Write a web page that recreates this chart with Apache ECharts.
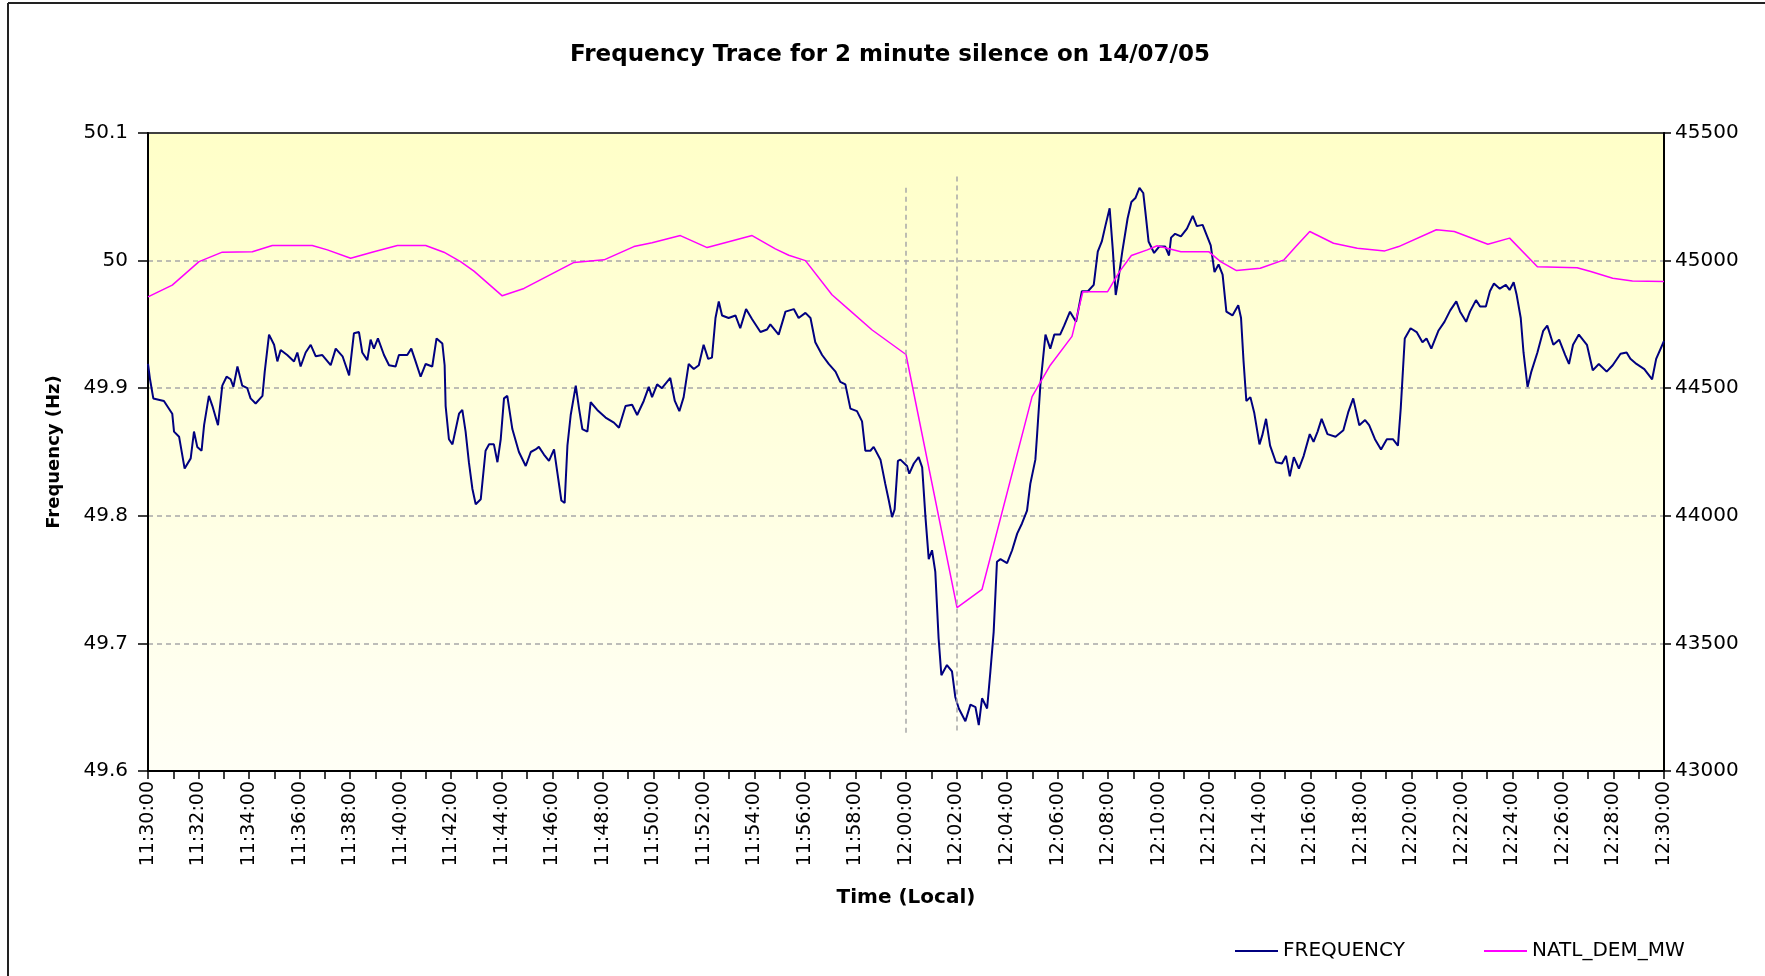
<!DOCTYPE html>
<html>
<head>
<meta charset="utf-8">
<title>Frequency Trace for 2 minute silence on 14/07/05</title>
<script src="https://cdn.jsdelivr.net/npm/echarts@6/dist/echarts.min.js"></script>
<style>
  html, body { margin: 0; padding: 0; background: #fff; }
  #chart { width: 1765px; height: 976px; }
</style>
</head>
<body>
<div id="chart"></div>
<script>
// time is minutes after 11:30:00
const freqMinutes = [
  0, 0.08, 0.21, 0.63, 0.96, 1.03, 1.23, 1.45, 1.69, 1.82, 1.95, 2.12, 2.22, 2.41, 2.55, 2.77, 2.94, 3.11, 3.27, 3.38,
  3.54, 3.73, 3.93, 4.06, 4.26, 4.53, 4.62, 4.79, 4.99, 5.12, 5.25, 5.51, 5.78, 5.91, 6.04, 6.24, 6.44, 6.64, 6.90, 7.23,
  7.43, 7.70, 7.96, 8.15, 8.35, 8.48, 8.68, 8.81, 8.94, 9.10, 9.34, 9.54, 9.80, 9.93, 10.26, 10.42, 10.59, 10.79, 10.99, 11.25,
  11.42, 11.65, 11.74, 11.78, 11.91, 12.05, 12.31, 12.44, 12.57, 12.70, 12.84, 12.97, 13.17, 13.36, 13.50, 13.69, 13.83, 13.96, 14.09, 14.22,
  14.42, 14.68, 14.95, 15.15, 15.34, 15.47, 15.67, 15.87, 16.07, 16.20, 16.36, 16.49, 16.60, 16.73, 16.93, 17.06, 17.19, 17.39, 17.52, 17.78,
  18.11, 18.44, 18.64, 18.90, 19.16, 19.36, 19.62, 19.82, 19.95, 20.15, 20.34, 20.67, 20.85, 21.03, 21.20, 21.40, 21.60, 21.80, 21.99, 22.17,
  22.32, 22.46, 22.59, 22.72, 22.98, 23.25, 23.44, 23.67, 23.91, 24.24, 24.50, 24.63, 24.96, 25.23, 25.56, 25.75, 26.02, 26.22, 26.41, 26.68,
  26.94, 27.21, 27.40, 27.60, 27.80, 28.06, 28.26, 28.39, 28.59, 28.72, 28.99, 29.18, 29.32, 29.45, 29.55, 29.68, 29.78, 30.04, 30.13, 30.31,
  30.50, 30.64, 30.77, 30.90, 31.03, 31.16, 31.29, 31.40, 31.62, 31.82, 31.95, 32.09, 32.35, 32.55, 32.75, 32.88, 33.01, 33.21, 33.34, 33.47,
  33.60, 33.74, 34.00, 34.20, 34.40, 34.59, 34.79, 34.92, 35.12, 35.19, 35.32, 35.52, 35.71, 35.87, 36.10, 36.26, 36.49, 36.73, 36.96, 37.20,
  37.43, 37.59, 37.75, 37.90, 38.06, 38.19, 38.30, 38.41, 38.56, 38.77, 38.92, 39.08, 39.24, 39.39, 39.47, 39.60, 39.82, 40.02, 40.26, 40.41,
  40.49, 40.65, 40.88, 41.12, 41.35, 41.51, 41.74, 41.90, 42.06, 42.21, 42.37, 42.53, 42.68, 42.92, 43.15, 43.26, 43.36, 43.47, 43.63, 43.78,
  43.99, 44.10, 44.25, 44.41, 44.64, 44.88, 45.04, 45.19, 45.35, 45.55, 45.74, 45.98, 46.13, 46.29, 46.45, 46.68, 47.00, 47.31, 47.50, 47.70,
  47.94, 48.17, 48.33, 48.56, 48.80, 49.03, 49.27, 49.47, 49.58, 49.74, 49.97, 50.21, 50.44, 50.60, 50.79, 51.07, 51.31, 51.54, 51.78, 51.93,
  52.17, 52.32, 52.56, 52.72, 52.95, 53.11, 53.27, 53.50, 53.74, 53.89, 54.05, 54.17, 54.33, 54.44, 54.60, 54.75, 54.99, 55.22, 55.38, 55.62,
  55.85, 56.09, 56.24, 56.40, 56.63, 56.95, 57.18, 57.42, 57.73, 57.97, 58.28, 58.52, 58.67, 58.91, 59.22, 59.53, 59.69, 60
];
const freqHz = [
  49.919, 49.907, 49.892, 49.890, 49.880, 49.866, 49.862, 49.837, 49.845, 49.866, 49.854, 49.851, 49.871, 49.894, 49.886, 49.871, 49.902, 49.909, 49.907, 49.901,
  49.917, 49.902, 49.900, 49.892, 49.888, 49.894, 49.913, 49.942, 49.934, 49.921, 49.930, 49.926, 49.921, 49.928, 49.917, 49.928, 49.934, 49.925, 49.926, 49.918,
  49.931, 49.925, 49.910, 49.943, 49.944, 49.928, 49.922, 49.938, 49.931, 49.939, 49.926, 49.918, 49.917, 49.926, 49.926, 49.931, 49.921, 49.909, 49.919, 49.917,
  49.939, 49.935, 49.918, 49.886, 49.860, 49.856, 49.880, 49.883, 49.866, 49.842, 49.821, 49.809, 49.813, 49.851, 49.856, 49.856, 49.842, 49.860, 49.892, 49.894,
  49.868, 49.850, 49.839, 49.850, 49.852, 49.854, 49.848, 49.843, 49.852, 49.834, 49.812, 49.810, 49.855, 49.879, 49.902, 49.884, 49.868, 49.866, 49.889, 49.883,
  49.877, 49.873, 49.869, 49.886, 49.887, 49.879, 49.890, 49.901, 49.893, 49.903, 49.900, 49.908, 49.890, 49.882, 49.893, 49.919, 49.915, 49.918, 49.934, 49.923,
  49.924, 49.955, 49.968, 49.957, 49.955, 49.957, 49.947, 49.962, 49.954, 49.944, 49.946, 49.950, 49.942, 49.960, 49.962, 49.955, 49.959, 49.955, 49.936, 49.926,
  49.919, 49.913, 49.905, 49.903, 49.884, 49.882, 49.874, 49.851, 49.851, 49.854, 49.844, 49.825, 49.812, 49.799, 49.805, 49.843, 49.844, 49.839, 49.833, 49.841,
  49.846, 49.838, 49.799, 49.766, 49.773, 49.756, 49.704, 49.675, 49.683, 49.678, 49.658, 49.649, 49.639, 49.652, 49.650, 49.636, 49.657, 49.649, 49.678, 49.709,
  49.764, 49.766, 49.763, 49.773, 49.786, 49.794, 49.804, 49.825, 49.844, 49.864, 49.903, 49.942, 49.931, 49.942, 49.942, 49.949, 49.960, 49.952, 49.976, 49.976,
  49.981, 50.007, 50.015, 50.028, 50.041, 50.007, 49.973, 49.986, 50.007, 50.033, 50.046, 50.049, 50.057, 50.053, 50.039, 50.015, 50.006, 50.011, 50.011, 50.004,
  50.018, 50.021, 50.019, 50.025, 50.035, 50.027, 50.028, 50.020, 50.012, 49.991, 49.997, 49.989, 49.960, 49.957, 49.965, 49.955, 49.921, 49.890, 49.893, 49.881,
  49.856, 49.863, 49.876, 49.855, 49.842, 49.841, 49.847, 49.831, 49.846, 49.837, 49.847, 49.864, 49.858, 49.866, 49.876, 49.864, 49.862, 49.867, 49.881, 49.892,
  49.871, 49.875, 49.871, 49.860, 49.852, 49.860, 49.860, 49.855, 49.884, 49.939, 49.947, 49.944, 49.936, 49.939, 49.931, 49.945, 49.952, 49.961, 49.968, 49.960,
  49.952, 49.960, 49.969, 49.964, 49.964, 49.976, 49.982, 49.978, 49.981, 49.977, 49.983, 49.973, 49.955, 49.928, 49.901, 49.913, 49.928, 49.945, 49.949, 49.934,
  49.938, 49.926, 49.919, 49.934, 49.942, 49.934, 49.914, 49.919, 49.913, 49.918, 49.927, 49.928, 49.923, 49.919, 49.915, 49.907, 49.923, 49.937
];

const demandMinutes = [
  0, 0.96, 2.02, 2.94, 4.13, 4.92, 6.50, 7.10, 8.02, 8.94, 9.87, 10.99, 11.71, 12.37, 12.90, 14.02, 14.88, 16.86, 18.05, 19.23,
  19.95, 21.07, 22.13, 23.91, 24.83, 25.36, 26.02, 27.07, 27.73, 28.66, 30.00, 32.02, 33.01, 34.99, 35.71, 36.57, 37.00, 37.98, 38.45, 38.92,
  39.55, 39.94, 40.88, 41.98, 42.45, 43.08, 44.02, 44.96, 45.43, 45.98, 46.92, 47.86, 48.95, 49.50, 50.99, 51.70, 53.03, 53.89, 54.99, 56.56,
  57.10, 57.97, 58.75, 60
];
const demandMW = [
  44858, 44904, 44996, 45033, 45035, 45059, 45059, 45042, 45009, 45035, 45059, 45059, 45033, 44996, 44959, 44862, 44891, 44993, 45003, 45055,
  45070, 45098, 45051, 45098, 45046, 45021, 45000, 44866, 44809, 44728, 44632, 43640, 43712, 44467, 44590, 44703, 44878, 44878, 44957, 45020,
  45042, 45058, 45035, 45035, 44996, 44961, 44970, 45003, 45055, 45114, 45068, 45048, 45038, 45055, 45121, 45114, 45064, 45088, 44976, 44972,
  44957, 44931, 44920, 44918
];

// the two minute silence: 12:00:00 and 12:02:00
const silenceMinutes = [30, 32];
const silenceTopHz = [50.057, 50.066];
const silenceBottomHz = 49.63;

const seriesNames = ['FREQUENCY', 'NATL_DEM_MW'];

function timeLabel(m) {
  const total = 11 * 60 + 30 + m;
  const h = Math.floor(total / 60);
  const mm = total % 60;
  return h + ':' + String(mm).padStart(2, '0') + ':00';
}

const font = 'DejaVu Sans';
const chart = echarts.init(document.getElementById('chart'), null, { renderer: 'canvas' });

const legendBase = {
  top: 941, padding: 0,
  icon: 'rect',
  itemWidth: 43, itemHeight: 2,
  textStyle: { fontFamily: font, fontSize: 20, color: '#000' }
};

chart.setOption({
  animation: false,
  backgroundColor: '#fff',
  title: {
    text: 'Frequency Trace for 2 minute silence on 14/07/05',
    left: 890,
    textAlign: 'center',
    top: 44,
    padding: 0,
    textStyle: { fontFamily: font, fontWeight: 'bold', fontSize: 23, color: '#000' }
  },
  graphic: [
    { type: 'line', shape: { x1: 8, y1: 3, x2: 1765, y2: 3 }, style: { stroke: '#222', lineWidth: 2 } },
    { type: 'line', shape: { x1: 8, y1: 3, x2: 8, y2: 976 }, style: { stroke: '#222', lineWidth: 2 } }
  ],
  legend: [
    Object.assign({ data: [seriesNames[0]], left: 1235 }, legendBase),
    Object.assign({ data: [seriesNames[1]], left: 1484 }, legendBase)
  ],
  grid: {
    left: 148, right: 101, top: 133, bottom: 205,
    show: true,
    borderColor: '#404040',
    borderWidth: 2,
    backgroundColor: new echarts.graphic.LinearGradient(0, 0, 0, 1, [
      { offset: 0, color: '#ffffc8' },
      { offset: 1, color: '#fffff6' }
    ])
  },
  xAxis: {
    type: 'value',
    min: 0, max: 60, interval: 1,
    name: 'Time (Local)',
    nameLocation: 'middle',
    nameGap: 117,
    nameTextStyle: { fontFamily: font, fontWeight: 'bold', fontSize: 20, color: '#000' },
    axisLine: { lineStyle: { color: '#000', width: 2 } },
    axisTick: { length: 8, lineStyle: { color: '#000', width: 1.5 } },
    axisLabel: {
      rotate: 90, margin: 10,
      fontFamily: font, fontSize: 19, color: '#000',
      formatter: v => (v % 2 === 0 ? timeLabel(v) : '')
    },
    splitLine: { show: false }
  },
  yAxis: [
    {
      type: 'value',
      min: 49.6, max: 50.1, interval: 0.1,
      name: 'Frequency (Hz)',
      nameLocation: 'middle',
      nameGap: 85,
      nameTextStyle: { fontFamily: font, fontWeight: 'bold', fontSize: 18, color: '#000' },
      axisLine: { show: true, lineStyle: { color: '#000', width: 2 } },
      axisTick: { show: true, length: 10, lineStyle: { color: '#000', width: 1.5 } },
      axisLabel: {
        margin: 20, fontFamily: font, fontSize: 20, color: '#000',
        formatter: v => String(Math.round(v * 10) / 10)
      },
      splitLine: {
        show: true, showMinLine: false, showMaxLine: false,
        lineStyle: { color: '#a8a8a8', type: [5, 4], width: 1.5 }
      }
    },
    {
      type: 'value',
      min: 43000, max: 45500, interval: 500,
      position: 'right',
      axisLine: { show: true, lineStyle: { color: '#000', width: 2 } },
      axisTick: { show: true, length: 7, lineStyle: { color: '#000', width: 1.5 } },
      axisLabel: {
        margin: 11, fontFamily: font, fontSize: 20, color: '#000',
        formatter: v => String(v)
      },
      splitLine: { show: false }
    }
  ],
  series: [
    {
      name: seriesNames[0],
      type: 'line',
      yAxisIndex: 0,
      symbol: 'none',
      color: '#000080',
      lineStyle: { color: '#000080', width: 2 },
      data: freqMinutes.map((m, i) => [m, freqHz[i]]),
      markLine: {
        silent: true,
        symbol: 'none',
        label: { show: false },
        lineStyle: { color: '#a8a8a8', type: [5, 4], width: 1.5 },
        data: silenceMinutes.map((m, i) => [
          { coord: [m, silenceTopHz[i]] },
          { coord: [m, silenceBottomHz] }
        ])
      },
      z: 3
    },
    {
      name: seriesNames[1],
      type: 'line',
      yAxisIndex: 1,
      symbol: 'none',
      color: '#ff00ff',
      lineStyle: { color: '#ff00ff', width: 1.5 },
      data: demandMinutes.map((m, i) => [m, demandMW[i]]),
      z: 4
    }
  ]
});
</script>
</body>
</html>
